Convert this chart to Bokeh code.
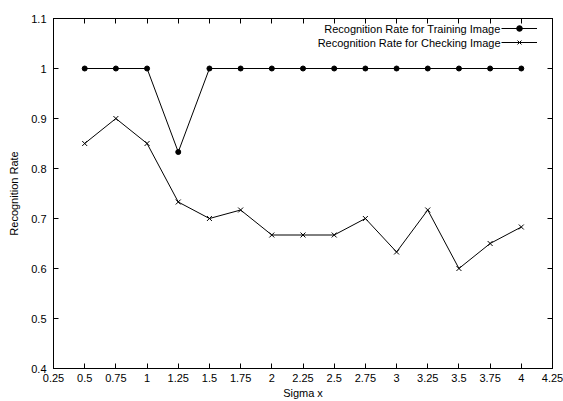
from bokeh.plotting import figure
from bokeh.models import Range1d, LinearAxis, FixedTicker, Legend, LegendItem, Label
from bokeh.embed import file_html
from bokeh.resources import INLINE

sigma = [0.5, 0.75, 1, 1.25, 1.5, 1.75, 2, 2.25, 2.5, 2.75, 3, 3.25, 3.5, 3.75, 4]
training = [1, 1, 1, 0.833, 1, 1, 1, 1, 1, 1, 1, 1, 1, 1, 1]
checking = [0.85, 0.9, 0.85, 0.733, 0.7, 0.717, 0.667, 0.667, 0.667, 0.7, 0.633, 0.717, 0.6, 0.65, 0.683]
x_ticks = [0.25, 0.5, 0.75, 1, 1.25, 1.5, 1.75, 2, 2.25, 2.5, 2.75, 3, 3.25, 3.5, 3.75, 4, 4.25]
y_ticks = [0.4, 0.5, 0.6, 0.7, 0.8, 0.9, 1.0, 1.1]
series_names = ["Recognition Rate for Training Image", "Recognition Rate for Checking Image"]

FONT = "Liberation Sans"

p = figure(width=563, height=401, output_backend="svg", toolbar_location=None,
           x_range=Range1d(0.25, 4.25), y_range=Range1d(0.4, 1.1),
           min_border_left=53, min_border_right=11, min_border_top=18, min_border_bottom=33)
p.xgrid.visible = False
p.ygrid.visible = False
p.outline_line_color = "black"
p.outline_line_width = 1
p.background_fill_color = "white"
p.border_fill_color = "white"

def style_axis(ax):
    ax.axis_line_color = "black"
    ax.major_tick_in = 5
    ax.major_tick_out = 0
    ax.minor_tick_in = 0
    ax.minor_tick_out = 0
    ax.major_tick_line_color = "black"
    ax.major_label_text_font = FONT
    ax.major_label_text_font_size = "11px"
    ax.major_label_text_color = "black"
    ax.axis_label_text_font = FONT
    ax.axis_label_text_font_size = "11px"
    ax.axis_label_text_font_style = "normal"
    ax.axis_label_text_color = "black"

p.xaxis.ticker = FixedTicker(ticks=x_ticks)
p.yaxis.ticker = FixedTicker(ticks=y_ticks)
p.xaxis.major_label_overrides = {t: ("%g" % t) for t in x_ticks}
p.yaxis.major_label_overrides = {t: ("%g" % t) for t in y_ticks}
style_axis(p.xaxis[0])
style_axis(p.yaxis[0])
p.xaxis.axis_label = "Sigma x"
p.yaxis.axis_label = "Recognition Rate"
p.xaxis.major_label_standoff = 5
p.xaxis.axis_label_standoff = 2
p.yaxis.major_label_standoff = 7
p.yaxis.axis_label_standoff = 8

top = LinearAxis(ticker=FixedTicker(ticks=x_ticks),
                 major_label_overrides={t: "" for t in x_ticks})
style_axis(top)
top.major_label_standoff = 0
p.add_layout(top, "above")
right = LinearAxis(ticker=FixedTicker(ticks=y_ticks),
                   major_label_overrides={t: "" for t in y_ticks})
style_axis(right)
right.major_label_standoff = 0
p.add_layout(right, "right")

l1 = p.line(sigma, training, line_color="black", line_width=1)
m1 = p.scatter(sigma, training, marker="circle", size=5, fill_color="black", line_color="black")
l2 = p.line(sigma, checking, line_color="black", line_width=1)
m2 = p.scatter(sigma, checking, marker="x", size=7, line_color="black", line_width=1)

legend = Legend(items=[LegendItem(label=" ", renderers=[l1, m1]),
                       LegendItem(label=" ", renderers=[l2, m2])],
                location=(448, 319), border_line_alpha=0, background_fill_alpha=0,
                glyph_width=36, glyph_height=14, label_width=0, label_standoff=0,
                label_text_font_size="2px", padding=0, spacing=0, margin=0)
p.add_layout(legend)

for i, name in enumerate(series_names):
    p.add_layout(Label(x=447, y=340 - i * 14, x_units="screen", y_units="screen",
                       text=name, text_align="right", text_baseline="middle",
                       text_font=FONT, text_font_size="11px", text_color="black"))

open("out.html", "w").write(file_html(p, INLINE))
